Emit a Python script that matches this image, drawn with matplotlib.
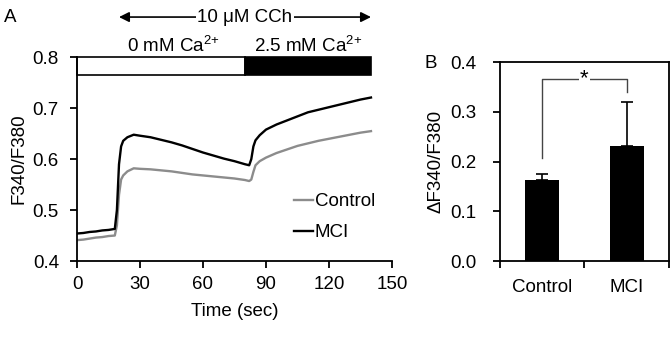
import matplotlib.pyplot as plt

plt.rcParams['font.family'] = ['Liberation Sans', 'DejaVu Sans']
plt.rcParams['font.size'] = 13.5

# panel A: ratio traces
time = [0, 3, 6, 9, 12, 15, 18, 19, 20, 21, 22, 24, 27, 30, 35, 40, 45, 50, 55, 60,
        65, 70, 75, 80, 82, 83, 84, 85, 87, 90, 95, 100, 105, 110, 115, 120, 125, 130, 135, 140]
control = [0.441, 0.442, 0.444, 0.446, 0.447, 0.449, 0.450, 0.470, 0.530, 0.560,
           0.568, 0.576, 0.582, 0.581, 0.580, 0.578, 0.576, 0.573, 0.570, 0.568,
           0.566, 0.564, 0.562, 0.559, 0.557, 0.560, 0.575, 0.588, 0.596, 0.603,
           0.612, 0.619, 0.626, 0.631, 0.636, 0.640, 0.644, 0.648, 0.652, 0.655]
mci = [0.454, 0.455, 0.457, 0.458, 0.460, 0.461, 0.463, 0.500, 0.590, 0.625,
       0.636, 0.643, 0.648, 0.646, 0.643, 0.638, 0.633, 0.627, 0.620, 0.613,
       0.607, 0.601, 0.596, 0.590, 0.588, 0.600, 0.625, 0.637, 0.647, 0.658,
       0.668, 0.676, 0.684, 0.692, 0.697, 0.702, 0.707, 0.712, 0.717, 0.721]

# protocol: CCh from 20 s, Ca2+ switch at 80 s
cch_start, ca_switch, t_end = 20, 80, 140

# panel B: peak change
groups = ['Control', 'MCI']
delta = [0.162, 0.232]
delta_err = [0.013, 0.087]

fig = plt.figure(figsize=(6.72, 3.41), dpi=100)

# ---- panel A ----
ax = fig.add_axes([0.1146, 0.2346, 0.4687, 0.5974])
ax.plot(time, control, color='#8c8c8c', lw=1.7, label='Control')
ax.plot(time, mci, color='black', lw=1.7, label='MCI')
ax.set_xlim(0, 150)
ax.set_ylim(0.4, 0.8)
ax.set_xticks([0, 30, 60, 90, 120, 150])
ax.set_yticks([0.4, 0.5, 0.6, 0.7, 0.8])
ax.set_yticklabels(['0.4', '0.5', '0.6', '0.7', '0.8'])
ax.spines['top'].set_visible(False)
ax.spines['right'].set_visible(False)
for s in ['left', 'bottom']:
    ax.spines[s].set_linewidth(1.3)
ax.tick_params(direction='out', length=5, width=1.3)
ax.tick_params(axis='x', pad=6)
ax.tick_params(axis='y', pad=8)
ax.set_xlabel('Time (sec)', labelpad=7)
ax.set_ylabel('F340/F380', labelpad=4)

# solution bars
ax.bar(0, 0.035, width=ca_switch, bottom=0.765, align='edge', color='white',
       edgecolor='black', lw=1.2, clip_on=False)
ax.bar(ca_switch, 0.035, width=t_end - ca_switch, bottom=0.765, align='edge',
       color='black', edgecolor='black', lw=1.2, clip_on=False)
ax.text(ca_switch / 2 + 6, 0.803, '0 mM $\\mathregular{Ca^{2{+}}}$', ha='center', va='bottom')
ax.text((ca_switch + t_end) / 2, 0.803, '2.5 mM $\\mathregular{Ca^{2{+}}}$', ha='center', va='bottom')

# CCh arrow
ax.annotate('', xy=(t_end, 0.879), xytext=(cch_start, 0.879),
            arrowprops=dict(arrowstyle='<|-|>', color='black', lw=1.2,
                            mutation_scale=15, shrinkA=0, shrinkB=0),
            annotation_clip=False)
ax.text((cch_start + t_end) / 2, 0.879, '10 μM CCh', ha='center', va='center',
        bbox=dict(facecolor='white', edgecolor='none', pad=1))

ax.legend(loc='lower left', bbox_to_anchor=(0.665, 0.06), frameon=False,
          handlelength=1.0, handletextpad=0.1, labelspacing=0.75, borderaxespad=0)

fig.text(0.006, 0.935, 'A')

# ---- panel B ----
bx = fig.add_axes([0.744, 0.2346, 0.2515, 0.583])
pos = [0.5, 1.5]
bx.bar(pos, delta, width=0.4, color='black')
bx.errorbar(pos, delta, yerr=[[0, 0], delta_err], fmt='none', ecolor='black',
            elinewidth=1.2, capsize=4, capthick=1.2)
bx.set_xlim(0, 2)
bx.set_ylim(0, 0.4)
bx.set_xticks([0, 1, 2])
bx.set_xticklabels([])
bx.set_xticks(pos, minor=True)
bx.set_xticklabels(groups, minor=True)
bx.tick_params(axis='x', which='minor', length=0, pad=13)
bx.tick_params(which='major', direction='out', length=5, width=1.3)
bx.tick_params(axis='y', pad=12)
bx.set_yticks([0.0, 0.1, 0.2, 0.3, 0.4])
bx.set_yticklabels(['0.0', '0.1', '0.2', '0.3', '0.4'])
for s in bx.spines.values():
    s.set_linewidth(1.3)
bx.set_ylabel('ΔF340/F380', labelpad=4)

# significance bracket
left_base = delta[0] + delta_err[0] + 0.032
right_base = delta[1] + delta_err[1] + 0.022
top = 0.366
bx.plot([pos[0], pos[0], pos[1], pos[1]], [left_base, top, top, right_base],
        color='#444444', lw=1.0)
bx.text(sum(pos) / 2, top, '*', ha='center', va='center', fontsize=16,
        bbox=dict(facecolor='white', edgecolor='none', pad=1))

fig.text(0.632, 0.8, 'B')

fig.savefig('out.png', dpi=100)
